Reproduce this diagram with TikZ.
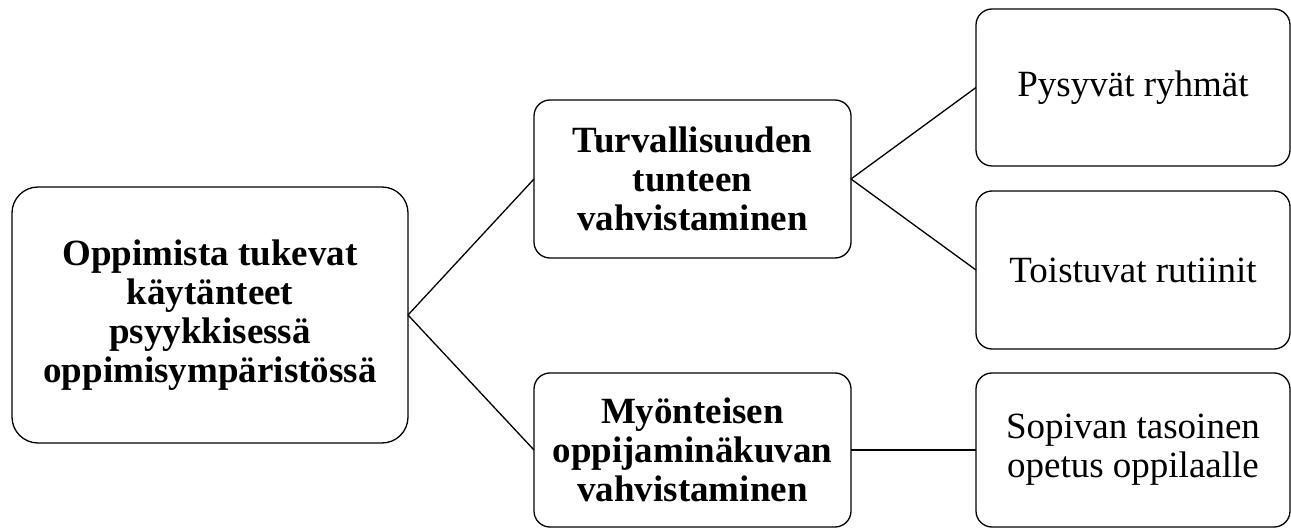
\documentclass[tikz,border=0pt]{standalone}
\usepackage{fontspec}
\setmainfont{Liberation Serif}
\begin{document}
\begin{tikzpicture}[x=1pt,y=-1pt,
  box/.style={draw, line width=1.3pt, rounded corners=16pt, align=center,
    outer sep=0pt, inner sep=0pt, font=\fontsize{37}{39}\selectfont},
  headbox/.style={box, font=\fontsize{37}{39}\selectfont\bfseries},
  link/.style={line width=1.3pt}]
\useasboundingbox (0,0) rectangle (1291,529);
\node[headbox, rounded corners=26pt, minimum width=396pt, minimum height=256pt]
  (root) at (210,315) {Oppimista tukevat\\käytänteet\\psyykkisessä\\oppimisympäristössä};
\node[headbox, minimum width=317pt, minimum height=158pt]
  (safe) at (692.5,179) {Turvallisuuden\\tunteen\\vahvistaminen};
\node[headbox, minimum width=317pt, minimum height=154pt]
  (self) at (692.5,450) {Myönteisen\\oppijaminäkuvan\\vahvistaminen};
\node[box, minimum width=314pt, minimum height=157pt]
  (groups) at (1133,87.5) {Pysyvät ryhmät};
\node[box, minimum width=314pt, minimum height=158pt]
  (routines) at (1133,270) {Toistuvat rutiinit};
\node[box, minimum width=314pt, minimum height=154pt]
  (level) at (1133,450) {Sopivan tasoinen\\opetus oppilaalle};
\draw[link] (root.east) -- (safe.west);
\draw[link] (root.east) -- (self.west);
\draw[link] (safe.east) -- (groups.west);
\draw[link] (safe.east) -- (routines.west);
\draw[link] (self.east) -- (level.west);
\end{tikzpicture}
\end{document}
